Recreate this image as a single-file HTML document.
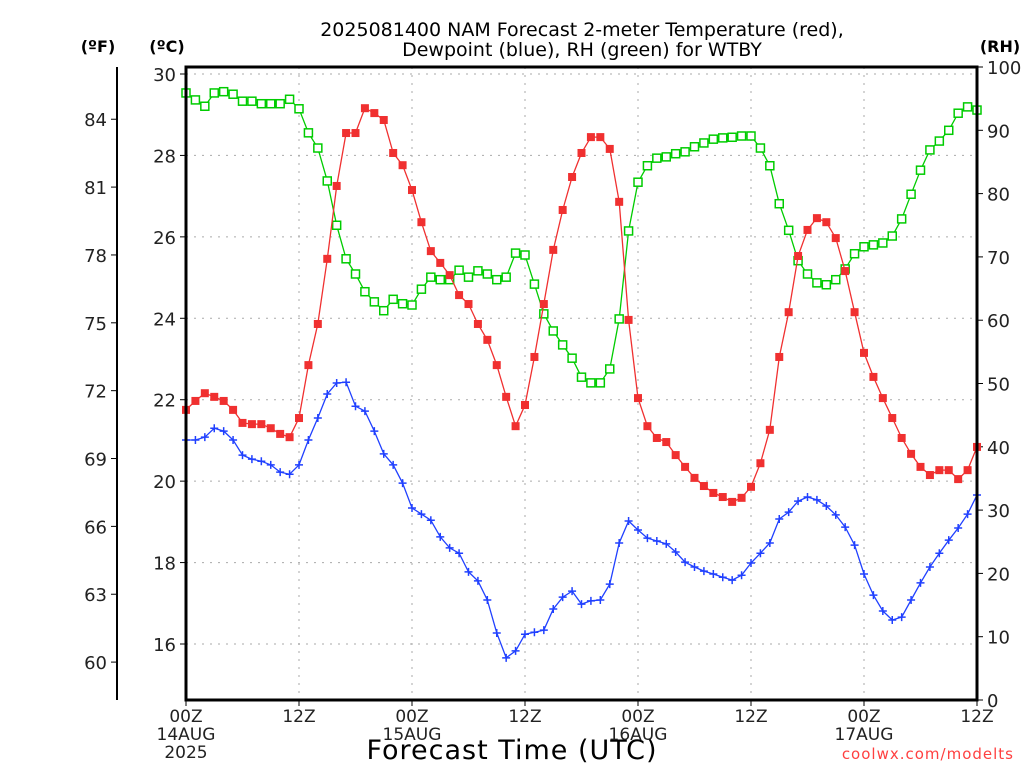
<!DOCTYPE html>
<html><head><meta charset="utf-8"><style>
body{margin:0;background:#fff;width:1024px;height:768px;overflow:hidden;font-family:"Liberation Sans",sans-serif}
svg text{font-family:"DejaVu Sans","Liberation Sans",sans-serif}
</style></head><body>
<svg id="chart" width="1024" height="768" xmlns="http://www.w3.org/2000/svg">
<text x="582" y="36" font-size="19" text-anchor="middle">2025081400 NAM Forecast 2-meter Temperature (red),</text>
<text x="582" y="56" font-size="19" text-anchor="middle">Dewpoint (blue), RH (green) for WTBY</text>
<text x="98" y="52" font-size="16" font-weight="bold" text-anchor="middle">(ºF)</text>
<text x="167" y="52" font-size="16" font-weight="bold" text-anchor="middle">(ºC)</text>
<text x="1000" y="52" font-size="16" font-weight="bold" text-anchor="middle">(RH)</text>
<text x="512" y="759" font-size="27" text-anchor="middle" letter-spacing="1">Forecast Time (UTC)</text>
<text x="1014" y="759" font-size="15" fill="#ff4040" text-anchor="end" letter-spacing="1">coolwx.com/modelts</text>
<g id="grid"></g><g id="axes"></g><g id="series"></g>
<rect x="186" y="67" width="791" height="633" fill="none" stroke="#000" stroke-width="3"/>
</svg>
<script>
const hoursTotal = 84;
const tempC = [21.75,21.97,22.16,22.07,21.97,21.75,21.43,21.40,21.40,21.30,21.16,21.08,21.55,22.85,23.86,25.46,27.25,28.55,28.55,29.16,29.04,28.87,28.06,27.76,27.15,26.36,25.65,25.36,25.06,24.57,24.35,23.86,23.47,22.85,22.07,21.35,21.87,23.05,24.35,25.68,26.66,27.47,28.06,28.45,28.45,28.16,26.86,23.96,22.04,21.35,21.06,20.96,20.64,20.35,20.08,19.88,19.71,19.61,19.49,19.59,19.86,20.44,21.26,23.05,24.15,25.53,26.17,26.46,26.36,25.97,25.16,24.15,23.15,22.56,22.04,21.55,21.06,20.67,20.35,20.15,20.27,20.27,20.05,20.27,20.84];
const dewC = [21.01,21.01,21.08,21.30,21.23,21.01,20.64,20.54,20.49,20.40,20.22,20.17,20.40,21.01,21.55,22.14,22.41,22.43,21.84,21.72,21.23,20.67,20.40,19.95,19.34,19.19,19.04,18.63,18.36,18.23,17.77,17.55,17.08,16.27,15.66,15.83,16.24,16.29,16.34,16.86,17.15,17.30,16.98,17.06,17.08,17.47,18.48,19.02,18.80,18.60,18.53,18.46,18.26,18.01,17.89,17.79,17.72,17.64,17.57,17.69,17.99,18.23,18.48,19.07,19.24,19.51,19.61,19.54,19.39,19.17,18.87,18.43,17.72,17.20,16.81,16.59,16.66,17.08,17.50,17.89,18.23,18.55,18.85,19.19,19.66];
const rhPct = [95.9,94.8,93.8,95.9,96.1,95.7,94.6,94.6,94.2,94.2,94.2,94.9,93.4,89.6,87.2,82.0,75.0,69.7,67.3,64.5,62.9,61.5,63.3,62.6,62.4,64.9,66.8,66.4,66.4,67.9,66.8,67.8,67.3,66.4,66.8,70.6,70.3,65.7,61.0,58.3,56.1,54.0,51.0,50.1,50.1,52.3,60.2,74.1,81.8,84.4,85.6,85.8,86.3,86.6,87.4,88.0,88.6,88.8,88.9,89.1,89.1,87.2,84.4,78.4,74.2,69.4,67.3,65.9,65.6,66.4,68.1,70.5,71.6,71.9,72.2,73.3,76.0,79.9,83.7,86.9,88.3,90.0,92.7,93.7,93.2];
const celsiusTicks = [30,28,26,24,22,20,18,16];
const fahrenheitTicks = [84,81,78,75,72,69,66,63,60];
const rhTicks = [100,90,80,70,60,50,40,30,20,10,0];
const timeTickHours = [0,12,24,36,48,60,72,84];
const timeTickLabels = [["00Z","14AUG","2025"],["12Z"],["00Z","15AUG"],["12Z"],["00Z","16AUG"],["12Z"],["00Z","17AUG"],["12Z"]];

const L=186,R=977,T=67,B=700;
const cTop=30+7/40.714, cBot=16-56/40.714;
const xS=h=>L+(R-L)*h/hoursTotal;
const yC=c=>T+(cTop-c)/(cTop-cBot)*(B-T);
const yF=f=>yC((f-32)/1.8);
const yRH=r=>B-(B-T)*r/100;
const NS="http://www.w3.org/2000/svg";
function mk(tag,parent,attrs){const e=document.createElementNS(NS,tag);for(const k in attrs)e.setAttribute(k,attrs[k]);parent.appendChild(e);return e;}
const grid=document.getElementById('grid'),axes=document.getElementById('axes'),ser=document.getElementById('series');

celsiusTicks.forEach(c=>{const y=yC(c);
 const g=mk('line',grid,{x1:L,x2:R,y1:y,y2:y,stroke:'#aaa','stroke-dasharray':'2,6'});
 
 
 const t=mk('line',axes,{x1:L-6,x2:L,y1:y,y2:y,stroke:'#000'});
 
 
 const tx=mk('text',axes,{x:L-10,y:y+7,'font-size':18,'text-anchor':'end',fill:'#222'});tx.textContent=c;
 
 
});
const fl=mk('line',axes,{x1:117,x2:117,y1:T,y2:B,stroke:'#000','stroke-width':2});


fahrenheitTicks.forEach(f=>{const y=yF(f);
 const t=mk('line',axes,{x1:111,x2:117,y1:y,y2:y,stroke:'#000'});
 
 
 const tx=mk('text',axes,{x:107,y:y+7,'font-size':18,'text-anchor':'end',fill:'#222'});tx.textContent=f;
 
 
});
rhTicks.forEach(r=>{const y=yRH(r);
 const t=mk('line',axes,{x1:R,x2:R+6,y1:y,y2:y,stroke:'#000'});
 
 
 const tx=mk('text',axes,{x:R+10,y:y+7,'font-size':18,fill:'#222'});tx.textContent=r;
 
 
});
timeTickHours.forEach((h,i)=>{const x=xS(h);
 if(h>0&&h<hoursTotal){const g=mk('line',grid,{x1:x,x2:x,y1:T,y2:B,stroke:'#aaa','stroke-dasharray':'2,6'});
  
  }
 const t=mk('line',axes,{x1:x,x2:x,y1:B,y2:B+6,stroke:'#000'});
 
 
 timeTickLabels[i].forEach((s,j)=>{const tx=mk('text',axes,{x:x,y:B+22+j*18,'font-size':17,'text-anchor':'middle',fill:'#222'});tx.textContent=s;
  
  });
});

function series(vals,yfn,color,name,marker){
 const pts=vals.map((v,i)=>xS(i).toFixed(1)+','+yfn(v).toFixed(1)).join(' ');
 const pl=mk('polyline',ser,{points:pts,fill:'none',stroke:color,'stroke-width':1.3});
 
 
 vals.forEach((v,i)=>{const x=xS(i),y=yfn(v);let m;
  if(marker==='fill'){m=mk('rect',ser,{x:x-4,y:y-4,width:8,height:8,fill:color});}
  else if(marker==='open'){m=mk('rect',ser,{x:x-4,y:y-4,width:8,height:8,fill:'#fff',stroke:color,'stroke-width':1.5});}
  else{m=mk('path',ser,{d:`M${x-4},${y}H${x+4}M${x},${y-4}V${y+4}`,stroke:color,'stroke-width':1.5});}
  
  
 });
}
series(rhPct,yRH,'#00cc00','rh','open');
series(dewC,yC,'#2040ff','dewpoint','plus');
series(tempC,yC,'#f03030','temperature','fill');
</script>
</body></html>
